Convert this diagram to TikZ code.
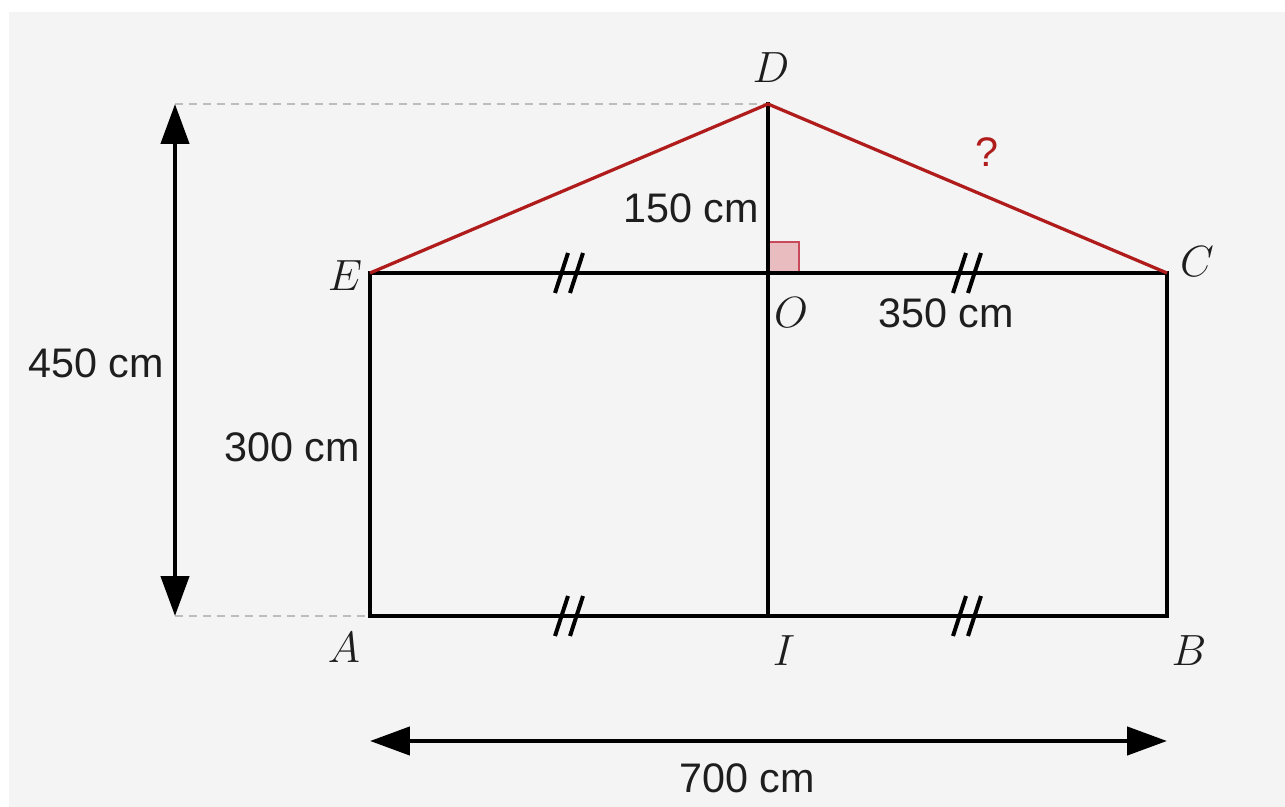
\documentclass[tikz,border=0pt]{standalone}
\usepackage{fontspec}
\setmainfont{Liberation Sans}
\usetikzlibrary{arrows.meta}
\definecolor{bggray}{HTML}{F4F4F4}
\definecolor{dashgray}{HTML}{BDBDBD}
\definecolor{roofred}{HTML}{B01C1C}
\definecolor{angfill}{HTML}{E9BCC0}
\definecolor{angdraw}{HTML}{C84A5A}
\definecolor{txt}{HTML}{1E1E1E}
\tikzset{
  seg/.style={line width=0.08cm, line cap=rect},
  roof/.style={line width=0.065cm, roofred},
  guide/.style={line width=0.05cm, dashgray, dash pattern=on 0.16cm off 0.12cm},
  dimarrow/.style={line width=0.09cm, {Triangle[length=0.8cm,width=0.56cm]}-{Triangle[length=0.8cm,width=0.56cm]}},
  lab/.style={font=\fontsize{23.5}{28}\selectfont, inner sep=0pt, text=txt},
  pt/.style={font=\fontsize{24}{28}\selectfont, inner sep=0pt, text=txt},
  tick/.style={line width=0.08cm}
}
\begin{document}
\begin{tikzpicture}[x=0.02cm,y=-0.02cm]
\useasboundingbox (0,0) rectangle (1285,807);
\fill[bggray] (9,12) rectangle (1285,807);
% points
\coordinate (A) at (370,616);
\coordinate (I) at (768,616);
\coordinate (B) at (1167,616);
\coordinate (C) at (1167,273);
\coordinate (O) at (768,273);
\coordinate (E) at (370,273);
\coordinate (D) at (768,104);
\coordinate (VT) at (175,104);
\coordinate (VB) at (175,616);
\coordinate (HL) at (370,741);
\coordinate (HR) at (1167,741);
% guides
\draw[guide] (VT) -- (D);
\draw[guide] (VB) -- (A);
% right angle
\filldraw[fill=angfill, draw=angdraw, line width=0.04cm] (O) rectangle ++(31,-31);
% main frame
\draw[seg] (E) -- (A) -- (B) -- (C) -- (E);
\draw[seg] (D) -- (I);
% roof
\draw[roof] (E) -- (D) -- (C);
% dimension arrows
\draw[dimarrow] (VT) -- (VB);
\draw[dimarrow] (HL) -- (HR);
% tick marks
\foreach \px/\py in {569/273,967/273,569/616,967/616}{
  \begin{scope}[shift={(\px,\py)}]
    \draw[tick] (-1,-20) -- (-14,20);
    \draw[tick] (14,-20) -- (1,20);
  \end{scope}
}
% labels
\node[lab] (l450) at (96,363) {450 cm};
\node[lab] (l300) at (292,447) {300 cm};
\node[lab] (l150) at (691,208) {150 cm};
\node[lab] (l350) at (946,313) {350 cm};
\node[lab] (l700) at (747,778) {700 cm};
\node[lab, text=roofred] (lq) at (987,152) {?};
% point names
\node[pt] (nD) at (771,68) {$D$};
\node[pt] (nE) at (345,276) {$E$};
\node[pt] (nC) at (1197,262) {$C$};
\node[pt] (nO) at (791,313) {$O$};
\node[pt] (nA) at (344,648) {$A$};
\node[pt] (nI) at (784,651) {$I$};
\node[pt] (nB) at (1189,651) {$B$};
\end{tikzpicture}
\end{document}
